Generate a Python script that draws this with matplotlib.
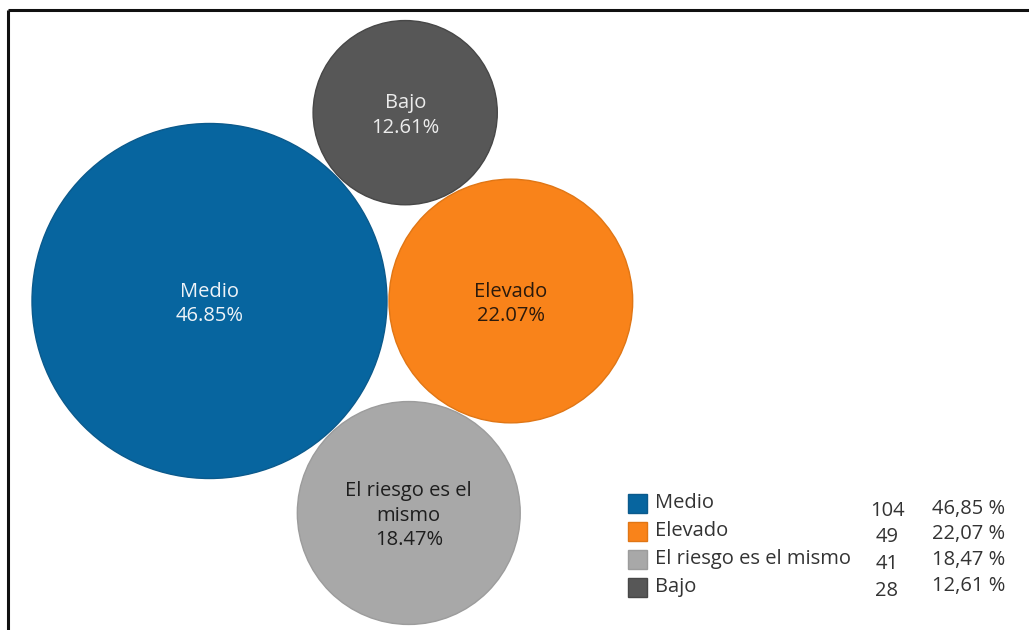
import numpy as np
import matplotlib
matplotlib.use("Agg")
import matplotlib.pyplot as plt
from matplotlib.patches import Circle, Rectangle

plt.rcParams['font.family'] = ['Open Sans', 'DejaVu Sans']

# data
categories = ["Medio", "Elevado", "El riesgo es el mismo", "Bajo"]
bubble_labels = ["Medio", "Elevado", "El riesgo es el\nmismo", "Bajo"]
counts = [104, 49, 41, 28]
pct_dot = ["46.85%", "22.07%", "18.47%", "12.61%"]
pct_comma = ["46,85 %", "22,07 %", "18,47 %", "12,61 %"]
colors = ["#07659f", "#f9831a", "#a8a8a8", "#575757"]
edge_colors = ["#0b5a8c", "#e07615", "#9c9c9c", "#474747"]
text_colors = ["#eef3f8", "#2b1a0c", "#1e1e1e", "#ececec"]

W, H = 1029, 630
fig = plt.figure(figsize=(W / 100, H / 100), dpi=100)
ax = fig.add_axes([0, 0, 1, 1])
ax.set_xlim(0, W)
ax.set_ylim(H, 0)
ax.set_aspect("equal")
ax.axis("off")

# area-proportional radii
k = 177.5 / np.sqrt(max(counts))
radii = [k * np.sqrt(c) for c in counts]
gap = 2.0


def tangent_center(ca, ra, cb, rb, r, side):
    # centre of a circle of radius r touching circles a and b
    ca, cb = np.asarray(ca), np.asarray(cb)
    da, db = ra + r + gap, rb + r + gap
    d = np.linalg.norm(cb - ca)
    a = (da ** 2 - db ** 2 + d ** 2) / (2 * d)
    h = np.sqrt(max(da ** 2 - a ** 2, 0))
    u = (cb - ca) / d
    n = np.array([u[1], -u[0]]) * side
    return ca + a * u + h * n


c0 = np.array([209.5, 301.0])
c1 = c0 + np.array([radii[0] + radii[1] + gap, 0])
c3 = tangent_center(c0, radii[0], c1, radii[1], radii[3], 1)
c2 = tangent_center(c0, radii[0], c1, radii[1], radii[2], -1)
centers = [c0, c1, c2, c3]

for i in range(len(categories)):
    ax.add_patch(Circle(centers[i], radii[i], facecolor=colors[i],
                        edgecolor=edge_colors[i], lw=1.0))
    ax.text(centers[i][0], centers[i][1] + 3, bubble_labels[i] + "\n" + pct_dot[i],
            ha="center", va="center", fontsize=14.5, color=text_colors[i],
            linespacing=1.3)

# legend
row_y = 503
for i in range(len(categories)):
    y = row_y + i * 28
    ax.add_patch(Rectangle((628, y - 9.5), 19, 19, facecolor=colors[i],
                           edgecolor=edge_colors[i], lw=1.0))
    ax.text(655, y, categories[i], ha="left", va="center", fontsize=14.5,
            color="#333333")
    ax.text(887, y + 8 - i * 1.5, str(counts[i]), ha="center", va="center",
            fontsize=14.5, color="#333333")
    ax.text(1005, y + 6 - i * 2.5, pct_comma[i], ha="right", va="center",
            fontsize=14.5, color="#333333")

# frame (top and left edges visible)
ax.plot([8, W], [10, 10], color="#111111", lw=2.2, solid_capstyle="butt")
ax.plot([8, 8], [10, H], color="#111111", lw=2.2, solid_capstyle="butt")

fig.savefig("out.png", dpi=100, facecolor="white")
